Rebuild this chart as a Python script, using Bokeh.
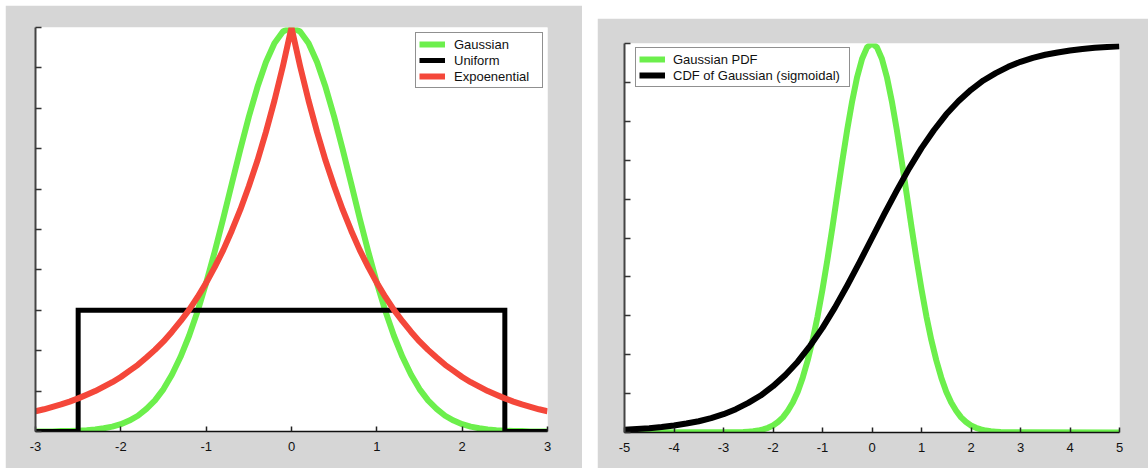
from bokeh.plotting import figure
from bokeh.models import (Range1d, FixedTicker, CustomJSTickFormatter, Legend,
                          LegendItem, Spacer)
from bokeh.layouts import row, column
from bokeh.embed import file_html
from bokeh.resources import INLINE

# ---------------- data ----------------
# Left panel: x from -3 to 3 in steps of 0.1
left_x = [round(-3 + 0.1 * i, 1) for i in range(61)]
gauss_half = [1.000, 0.990, 0.961, 0.914, 0.852, 0.779, 0.698, 0.613, 0.527, 0.445,
              0.368, 0.298, 0.237, 0.185, 0.141, 0.105, 0.077, 0.056, 0.039, 0.027,
              0.018, 0.012, 0.008, 0.005, 0.003, 0.002, 0.001, 0.001, 0.000, 0.000,
              0.000]
expo_half = [1.000, 0.905, 0.819, 0.741, 0.670, 0.607, 0.549, 0.497, 0.449, 0.407,
             0.368, 0.333, 0.301, 0.273, 0.247, 0.223, 0.202, 0.183, 0.165, 0.150,
             0.135, 0.122, 0.111, 0.100, 0.091, 0.082, 0.074, 0.067, 0.061, 0.055,
             0.050]
gaussian_left = gauss_half[::-1] + gauss_half[1:]
exponential_left = expo_half[::-1] + expo_half[1:]

uniform_x = [-3.0, -2.5, -2.5, 2.5, 2.5, 3.0]
uniform_y = [0.0, 0.0, 0.3, 0.3, 0.0, 0.0]

left_xticks = [-3, -2, -1, 0, 1, 2, 3]
yticks = [0.0, 0.1, 0.2, 0.3, 0.4, 0.5, 0.6, 0.7, 0.8, 0.9, 1.0]

# Right panel
pdf_x = [-5.0] + [round(-2.6 + 0.1 * i, 1) for i in range(53)] + [5.0]
pdf_half = gauss_half[:27]
gaussian_pdf = [0.0] + pdf_half[::-1] + pdf_half[1:] + [0.0]

cdf_x = [round(-5 + 0.25 * i, 2) for i in range(41)]
cdf_y = [0.007, 0.009, 0.011, 0.014, 0.018, 0.023, 0.029, 0.037, 0.047, 0.060,
         0.076, 0.095, 0.119, 0.148, 0.182, 0.223, 0.269, 0.321, 0.378, 0.438,
         0.500, 0.562, 0.622, 0.679, 0.731, 0.777, 0.818, 0.852, 0.881, 0.905,
         0.924, 0.940, 0.953, 0.963, 0.971, 0.977, 0.982, 0.986, 0.989, 0.991,
         0.993]
right_xticks = [-5, -4, -3, -2, -1, 0, 1, 2, 3, 4, 5]

# ---------------- styling ----------------
GRAY = "#d6d6d6"
GREEN = "#6cef4c"
RED = "#f4473a"
BLACK = "#000000"
FONT = "Liberation Sans"


def style(p, xticks):
    p.background_fill_color = "white"
    p.border_fill_color = GRAY
    p.outline_line_color = None
    p.grid.visible = False
    p.xaxis.ticker = FixedTicker(ticks=xticks)
    p.yaxis.ticker = FixedTicker(ticks=yticks)
    p.xaxis.minor_tick_line_color = None
    p.yaxis.minor_tick_line_color = None
    p.xaxis.major_tick_in = 5
    p.xaxis.major_tick_out = 0
    p.yaxis.major_tick_in = 6
    p.yaxis.major_tick_out = 0
    p.xaxis.axis_line_color = "#111111"
    p.yaxis.axis_line_color = "#444444"
    p.xaxis.axis_line_width = 1.5
    p.yaxis.axis_line_width = 2
    p.xaxis.major_tick_line_color = "#222222"
    p.yaxis.major_tick_line_color = "#333333"
    p.xaxis.major_tick_line_width = 1.5
    p.yaxis.major_tick_line_width = 1.5
    p.xaxis.major_label_text_font = FONT
    p.xaxis.major_label_text_font_size = "13px"
    p.xaxis.major_label_text_color = "#111111"
    p.xaxis.major_label_standoff = 10
    p.xaxis.formatter = CustomJSTickFormatter(code="return String(tick)")
    p.yaxis.formatter = CustomJSTickFormatter(code="return ''")


def make_legend(items, loc, label_width):
    lg = Legend(items=items, location=loc)
    lg.padding = 3
    lg.spacing = 0
    lg.margin = 0
    lg.glyph_width = 26
    lg.glyph_height = 16
    lg.label_height = 16
    lg.label_width = label_width
    lg.label_text_font = FONT
    lg.label_text_font_size = "13px"
    lg.label_text_color = "#111111"
    lg.border_line_color = "#222222"
    lg.border_line_width = 1
    lg.background_fill_color = "white"
    lg.background_fill_alpha = 1.0
    return lg


# ---------------- left figure ----------------
p1 = figure(frame_width=512, frame_height=404,
            x_range=Range1d(-3, 3), y_range=Range1d(0, 1),
            min_border_left=30, min_border_right=35,
            min_border_top=22, min_border_bottom=37,
            output_backend="svg", toolbar_location=None)
style(p1, left_xticks)
g1 = p1.line(left_x, gaussian_left, line_color=GREEN, line_width=6, line_join="round")
u1 = p1.line(uniform_x, uniform_y, line_color=BLACK, line_width=5, line_join="miter")
e1 = p1.line(left_x, exponential_left, line_color=RED, line_width=6, line_join="round")
lg1 = make_legend([LegendItem(label="Gaussian", renderers=[g1]),
                   LegendItem(label="Uniform", renderers=[u1]),
                   LegendItem(label="Expoenential", renderers=[e1])],
                  (380, 343), 85)
lg1.label_standoff = 9
p1.add_layout(lg1, "center")

# ---------------- right figure ----------------
p2 = figure(frame_width=495, frame_height=389,
            x_range=Range1d(-5, 5), y_range=Range1d(0, 1),
            min_border_left=27, min_border_right=29,
            min_border_top=25, min_border_bottom=36,
            output_backend="svg", toolbar_location=None)
style(p2, right_xticks)
g2 = p2.line(pdf_x, gaussian_pdf, line_color=GREEN, line_width=6, line_join="round")
c2 = p2.line(cdf_x, cdf_y, line_color=BLACK, line_width=6, line_join="round")
lg2 = make_legend([LegendItem(label="Gaussian PDF", renderers=[g2]),
                   LegendItem(label="CDF of Gaussian (sigmoidal)", renderers=[c2])],
                  (11, 345), 173)
lg2.label_standoff = 8
p2.add_layout(lg2, "center")

layout = row(Spacer(width=5, height=5),
             column(Spacer(width=5, height=5), p1),
             Spacer(width=15, height=5),
             column(Spacer(width=5, height=18), p2))

open("out.html", "w").write(file_html(layout, INLINE))
